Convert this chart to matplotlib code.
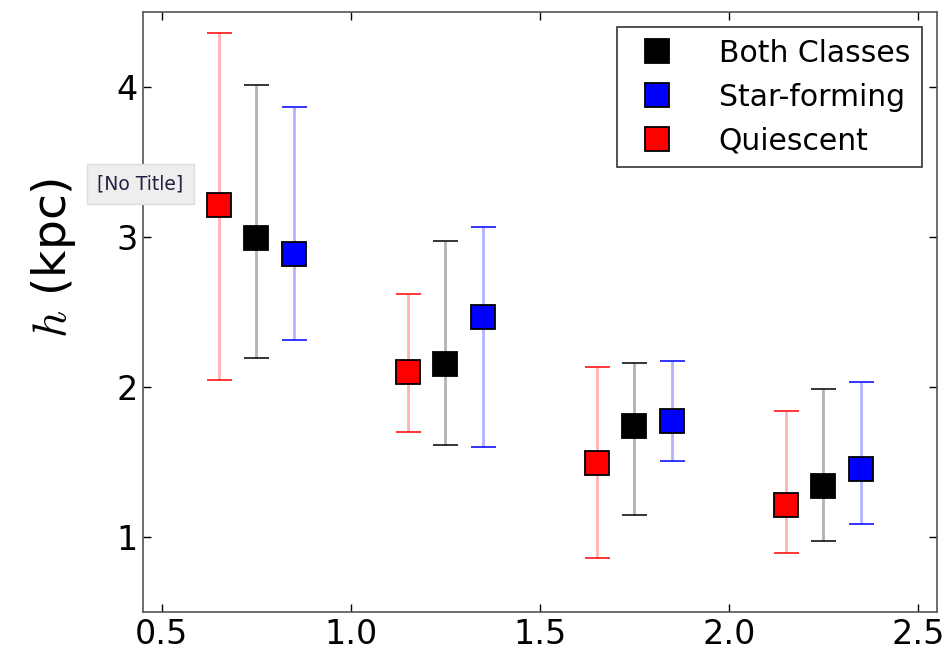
import matplotlib
matplotlib.use("Agg")
import matplotlib.pyplot as plt
from matplotlib.lines import Line2D

plt.rcParams["mathtext.fontset"] = "cm"
plt.rcParams["font.family"] = ["DejaVu Sans"]

# Bin centres and per-class offsets
bins = [0.75, 1.25, 1.75, 2.25]
offsets = {"Both Classes": 0.0, "Star-forming": 0.1, "Quiescent": -0.1}

# Scale height h (kpc) with asymmetric bounds
h_both = [2.99, 2.15, 1.74, 1.34]
h_both_hi = [4.01, 2.97, 2.16, 1.99]
h_both_lo = [2.19, 1.615, 1.145, 0.973]

h_sf = [2.885, 2.466, 1.776, 1.454]
h_sf_hi = [3.865, 3.064, 2.17, 2.033]
h_sf_lo = [2.313, 1.60, 1.505, 1.087]

h_q = [3.215, 2.097, 1.495, 1.215]
h_q_hi = [4.36, 2.618, 2.131, 1.838]
h_q_lo = [2.047, 1.70, 0.862, 0.891]

series = [
    ("Both Classes", "black", h_both, h_both_lo, h_both_hi),
    ("Star-forming", "blue", h_sf, h_sf_lo, h_sf_hi),
    ("Quiescent", "red", h_q, h_q_lo, h_q_hi),
]

fig = plt.figure(figsize=(9.53, 6.54), dpi=100)
ax = fig.add_axes([0.150, 0.064, 0.833, 0.918])

handles = []
for label, color, vals, lo, hi in series:
    xs = [b + offsets[label] for b in bins]
    yerr = [[v - l for v, l in zip(vals, lo)], [u - v for v, u in zip(vals, hi)]]
    pl, caps, bars = ax.errorbar(
        xs, vals, yerr=yerr, fmt="s", color=color, ecolor=color,
        markersize=17, markeredgecolor="black", markeredgewidth=1.3,
        elinewidth=2, capsize=9, capthick=2, zorder=3,
    )
    for b in bars:
        b.set_alpha(0.3)
    for c in caps:
        c.set_alpha(0.85)
    handles.append(Line2D([], [], linestyle="none", marker="s", markersize=17,
                          markerfacecolor=color, markeredgecolor="black",
                          markeredgewidth=1.3, label=label))

ax.set_xlim(0.45, 2.55)
ax.set_ylim(0.5, 4.5)
ax.set_xticks([0.5, 1.0, 1.5, 2.0, 2.5])
ax.set_yticks([1, 2, 3, 4])
ax.tick_params(direction="in", length=6, width=1, top=True, right=True,
               labelsize=24, pad=4)
for s in ax.spines.values():
    s.set_color("#555555")
    s.set_linewidth(1.2)

ax.set_ylabel(r"$h$ (kpc)", fontsize=34)
ax.yaxis.set_label_coords(-0.082, 0.59)

leg = ax.legend(handles=handles, loc="upper right", numpoints=1, fontsize=21.5,
                frameon=True, fancybox=False, borderaxespad=0.5,
                handletextpad=1.1, borderpad=0.4, labelspacing=0.5,
                handlelength=1.9)
leg.get_frame().set_edgecolor("black")
leg.get_frame().set_linewidth(1.2)

fig.text(0.102, 0.719, "[No Title]", fontsize=13.5, color="#222244",
         va="center", ha="left",
         bbox=dict(boxstyle="square,pad=0.55", facecolor="#eeeeee",
                   edgecolor="#dddddd"))

fig.savefig("out.png", dpi=100)
